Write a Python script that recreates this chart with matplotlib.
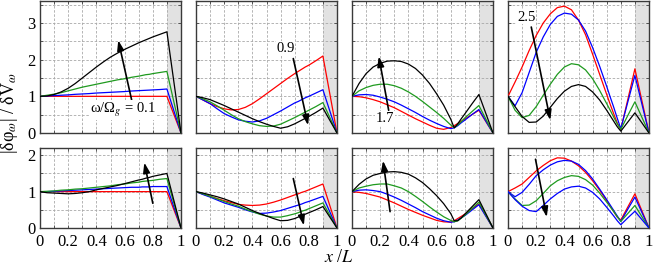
import matplotlib
matplotlib.use("Agg")
import matplotlib.pyplot as plt
import numpy as np

plt.rcParams['font.family'] = ['Liberation Serif', 'DejaVu Serif']
plt.rcParams['mathtext.fontset'] = 'stix'

# sample positions x/L (shared by every curve)
xs = [0, .05, .1, .15, .2, .25, .3, .35, .4, .45, .5, .55, .6, .65, .7, .725, .75, .775, .8, .85, .9, 1.0]

# top row, omega/Omega_g = 0.1, 0.9, 1.7, 2.5  (red, blue, green, black)
t1_red = [1.0] * 21 + [0]
t1_blue = [1.0, 1.01, 1.02, 1.03, 1.04, 1.055, 1.065, 1.075, 1.09, 1.1, 1.11, 1.12, 1.13, 1.145, 1.155, 1.16, 1.165, 1.17, 1.175, 1.185, 1.2, 0]
t1_green = [1.0, 1.03, 1.06, 1.1, 1.15, 1.2, 1.25, 1.29, 1.33, 1.37, 1.41, 1.45, 1.48, 1.52, 1.55, 1.57, 1.59, 1.6, 1.62, 1.65, 1.68, 0]
t1_black = [1.0, 1.01, 1.05, 1.12, 1.22, 1.35, 1.5, 1.65, 1.8, 1.94, 2.07, 2.18, 2.28, 2.37, 2.46, 2.5, 2.54, 2.58, 2.62, 2.69, 2.76, 0]

t2_red = [1.0, 0.9, 0.8, 0.72, 0.66, 0.63, 0.64, 0.7, 0.8, 0.93, 1.07, 1.21, 1.35, 1.49, 1.62, 1.68, 1.74, 1.8, 1.85, 1.97, 2.1, 0]
t2_blue = [1.0, 0.9, 0.8, 0.66, 0.53, 0.44, 0.36, 0.32, 0.3, 0.33, 0.4, 0.5, 0.6, 0.71, 0.82, 0.86, 0.91, 0.96, 1.0, 1.09, 1.18, 0]
t2_green = [1.0, 0.93, 0.85, 0.74, 0.62, 0.5, 0.39, 0.31, 0.25, 0.2, 0.18, 0.19, 0.24, 0.33, 0.42, 0.47, 0.52, 0.57, 0.62, 0.72, 0.83, 0]
t2_black = [1.0, 0.96, 0.91, 0.83, 0.75, 0.66, 0.57, 0.48, 0.39, 0.31, 0.24, 0.18, 0.13, 0.17, 0.25, 0.3, 0.35, 0.4, 0.45, 0.56, 0.68, 0]

t3_red = [1.0, 0.99, 0.96, 0.91, 0.85, 0.77, 0.69, 0.59, 0.49, 0.39, 0.3, 0.21, 0.13, 0.1, 0.15, 0.2, 0.26, 0.32, 0.38, 0.5, 0.62, 0]
t3_blue = [1.0, 1.04, 1.05, 1.03, 0.98, 0.92, 0.85, 0.76, 0.66, 0.56, 0.45, 0.35, 0.26, 0.18, 0.12, 0.14, 0.2, 0.28, 0.35, 0.5, 0.64, 0]
t3_green = [1.0, 1.15, 1.24, 1.3, 1.33, 1.33, 1.29, 1.22, 1.12, 1.0, 0.86, 0.71, 0.56, 0.4, 0.22, 0.15, 0.22, 0.31, 0.41, 0.58, 0.75, 0]
t3_black = [1.0, 1.35, 1.62, 1.8, 1.9, 1.96, 1.97, 1.95, 1.88, 1.76, 1.58, 1.35, 1.07, 0.76, 0.38, 0.14, 0.25, 0.39, 0.52, 0.79, 1.05, 0]

t4_red = [1.0, 1.39, 1.8, 2.25, 2.66, 3.0, 3.25, 3.42, 3.46, 3.36, 3.08, 2.68, 2.15, 1.6, 1.05, 0.78, 0.52, 0.27, 0.1, 0.92, 1.75, 0]
t4_blue = [1.0, 0.74, 1.1, 1.65, 2.2, 2.62, 2.96, 3.18, 3.27, 3.24, 3.08, 2.78, 2.33, 1.82, 1.27, 0.98, 0.7, 0.4, 0.12, 0.85, 1.57, 0]
t4_green = [1.0, 0.62, 0.42, 0.48, 0.72, 1.03, 1.33, 1.6, 1.8, 1.89, 1.86, 1.72, 1.48, 1.16, 0.8, 0.62, 0.43, 0.25, 0.1, 0.48, 0.85, 0]
t4_black = [1.0, 0.72, 0.45, 0.29, 0.3, 0.46, 0.7, 0.94, 1.14, 1.27, 1.32, 1.27, 1.12, 0.9, 0.62, 0.47, 0.32, 0.17, 0.05, 0.3, 0.55, 0]

# bottom row
b1_red = [1.0] * 21 + [0]
b1_blue = [1.0, 1.0, 1.01, 1.02, 1.03, 1.04, 1.05, 1.06, 1.07, 1.08, 1.09, 1.1, 1.11, 1.12, 1.12, 1.13, 1.13, 1.13, 1.14, 1.14, 1.14, 0]
b1_green = [1.0, 1.01, 1.02, 1.04, 1.05, 1.07, 1.08, 1.1, 1.12, 1.14, 1.16, 1.19, 1.21, 1.24, 1.26, 1.28, 1.29, 1.3, 1.31, 1.34, 1.36, 0]
b1_black = [1.0, 0.97, 0.96, 0.95, 0.94, 0.95, 0.97, 1.0, 1.05, 1.09, 1.13, 1.17, 1.22, 1.27, 1.32, 1.34, 1.37, 1.39, 1.42, 1.46, 1.5, 0]

b2_red = [1.0, 0.93, 0.87, 0.81, 0.75, 0.7, 0.65, 0.63, 0.62, 0.63, 0.66, 0.71, 0.77, 0.84, 0.91, 0.94, 0.98, 1.01, 1.05, 1.13, 1.21, 0]
b2_blue = [1.0, 0.92, 0.85, 0.77, 0.69, 0.63, 0.57, 0.5, 0.44, 0.4, 0.41, 0.44, 0.48, 0.54, 0.6, 0.63, 0.66, 0.7, 0.73, 0.8, 0.87, 0]
b2_green = [1.0, 0.94, 0.87, 0.8, 0.73, 0.66, 0.6, 0.52, 0.45, 0.38, 0.33, 0.3, 0.3, 0.34, 0.39, 0.42, 0.46, 0.49, 0.53, 0.61, 0.69, 0]
b2_black = [1.0, 0.96, 0.91, 0.86, 0.8, 0.73, 0.66, 0.57, 0.48, 0.4, 0.33, 0.26, 0.2, 0.21, 0.26, 0.3, 0.34, 0.38, 0.42, 0.5, 0.59, 0]

b3_red = [1.0, 0.98, 0.95, 0.9, 0.85, 0.77, 0.69, 0.6, 0.51, 0.43, 0.35, 0.28, 0.21, 0.17, 0.16, 0.2, 0.26, 0.32, 0.38, 0.52, 0.66, 0]
b3_blue = [1.0, 1.04, 1.05, 1.03, 1.0, 0.93, 0.85, 0.76, 0.66, 0.56, 0.45, 0.36, 0.27, 0.2, 0.16, 0.17, 0.22, 0.28, 0.34, 0.49, 0.64, 0]
b3_green = [1.0, 1.1, 1.15, 1.19, 1.21, 1.21, 1.16, 1.1, 1.0, 0.87, 0.73, 0.58, 0.44, 0.31, 0.21, 0.17, 0.2, 0.27, 0.35, 0.53, 0.71, 0]
b3_black = [1.0, 1.2, 1.35, 1.45, 1.5, 1.54, 1.55, 1.53, 1.48, 1.38, 1.25, 1.08, 0.89, 0.67, 0.4, 0.2, 0.2, 0.28, 0.38, 0.58, 0.78, 0]

b4_red = [1.0, 1.1, 1.21, 1.39, 1.57, 1.72, 1.85, 1.93, 1.92, 1.84, 1.71, 1.53, 1.3, 1.04, 0.75, 0.6, 0.45, 0.3, 0.22, 0.58, 0.94, 0]
b4_blue = [1.0, 0.86, 0.98, 1.2, 1.44, 1.6, 1.73, 1.82, 1.86, 1.84, 1.75, 1.58, 1.35, 1.07, 0.78, 0.63, 0.48, 0.33, 0.18, 0.52, 0.85, 0]
b4_green = [1.0, 0.8, 0.62, 0.63, 0.75, 0.95, 1.16, 1.3, 1.39, 1.44, 1.42, 1.33, 1.18, 0.96, 0.71, 0.58, 0.45, 0.31, 0.18, 0.4, 0.62, 0]
b4_blue2 = [1.0, 0.78, 0.6, 0.48, 0.45, 0.62, 0.8, 0.95, 1.07, 1.13, 1.15, 1.1, 0.98, 0.8, 0.57, 0.45, 0.33, 0.2, 0.09, 0.28, 0.46, 0]

GREEN = '#1f9a1f'
top_series = [
    [(t1_red, 'r'), (t1_blue, 'b'), (t1_green, GREEN), (t1_black, 'k')],
    [(t2_red, 'r'), (t2_blue, 'b'), (t2_green, GREEN), (t2_black, 'k')],
    [(t3_red, 'r'), (t3_blue, 'b'), (t3_green, GREEN), (t3_black, 'k')],
    [(t4_red, 'r'), (t4_blue, 'b'), (t4_green, GREEN), (t4_black, 'k')],
]
bot_series = [
    [(b1_red, 'r'), (b1_blue, 'b'), (b1_green, GREEN), (b1_black, 'k')],
    [(b2_red, 'r'), (b2_blue, 'b'), (b2_green, GREEN), (b2_black, 'k')],
    [(b3_red, 'r'), (b3_blue, 'b'), (b3_green, GREEN), (b3_black, 'k')],
    [(b4_red, 'r'), (b4_blue, 'b'), (b4_green, GREEN), (b4_blue2, 'b')],
]

# arrows: (tail, head), labels: (text, pos)
top_arrows = [((0.65, 0.9), (0.555, 2.53)), ((0.69, 2.03), (0.795, 0.21)),
              ((0.26, 0.62), (0.19, 2.09)), ((0.165, 2.89), (0.3, 0.35))]
top_labels = [('ω/Ω$_g$ = 0.1', (0.59, 0.63)), ('0.9', (0.635, 2.3)),
              ('1.7', (0.235, 0.39)), ('2.5', (0.13, 3.16))]
bot_arrows = [((0.8, 0.68), (0.74, 1.8)), ((0.69, 1.36), (0.765, 0.07)),
              ((0.27, 0.45), (0.22, 1.85)), ((0.195, 1.89), (0.275, 0.3))]

W, H = 654, 265
fig = plt.figure(figsize=(W / 100, H / 100), dpi=100)
lefts = [40, 196, 352, 508]


def style(ax, ymax, yticks, show_x, show_y):
    ax.axvspan(0.9, 1.0, color='#e2e2e2', zorder=0, lw=0)
    ax.set_xlim(0, 1)
    ax.set_ylim(0, ymax)
    ax.set_xticks(np.arange(0, 1.01, 0.2))
    ax.set_xticks(np.arange(0.1, 1.0, 0.2), minor=True)
    ax.set_yticks(yticks)
    ax.set_yticks(np.arange(0.5, ymax, 1.0), minor=True)
    ax.grid(True, which='both', color='#a8a8a8', ls=(0, (3, 2)), lw=0.6, zorder=1)
    ax.tick_params(which='both', direction='in', top=True, right=True,
                   length=2.5, width=0.6, labelsize=12, color='#444444')
    ax.tick_params(axis='x', pad=4)
    ax.tick_params(axis='y', pad=3)
    ax.set_xticklabels(['0', '0.2', '0.4', '0.6', '0.8', '1'] if show_x else [])
    if not show_y:
        ax.set_yticklabels([])
    for s in ax.spines.values():
        s.set_color('#3a3a3a')
        s.set_linewidth(1.0)


for i in range(4):
    ax = fig.add_axes([lefts[i] / W, (H - 133) / H, 141 / W, 132 / H])
    style(ax, 3.6, [0, 1, 2, 3], False, i == 0)
    for ys, c in top_series[i]:
        ax.plot(xs, ys, color=c, lw=0.9, zorder=3)
    tail, head = top_arrows[i]
    ax.annotate('', xy=head, xytext=tail, zorder=5,
                arrowprops=dict(arrowstyle='-|>,head_length=0.6,head_width=0.2',
                                color='k', lw=1.2, shrinkA=0, shrinkB=0))
    txt, pos = top_labels[i]
    ax.text(pos[0], pos[1], txt, fontsize=10.5, ha='center', va='center', zorder=6,
            bbox=dict(facecolor='white', edgecolor='none', pad=0.5))

for i in range(4):
    ax = fig.add_axes([lefts[i] / W, (H - 228) / H, 141 / W, 80 / H])
    style(ax, 2.2, [0, 1, 2], True, i == 0)
    for ys, c in bot_series[i]:
        ax.plot(xs, ys, color=c, lw=0.9, zorder=3)
    tail, head = bot_arrows[i]
    ax.annotate('', xy=head, xytext=tail, zorder=5,
                arrowprops=dict(arrowstyle='-|>,head_length=0.6,head_width=0.2',
                                color='k', lw=1.2, shrinkA=0, shrinkB=0))

fig.text(10 / W, 1 - 113 / H, '|δφ$_ω$| / δV$_ω$', rotation=90, fontsize=13,
         ha='center', va='center')
fig.text(339 / W, 1 - 258 / H, '$x$ /$L$', fontsize=13, ha='center', va='center')

fig.savefig('out.png', dpi=100)
